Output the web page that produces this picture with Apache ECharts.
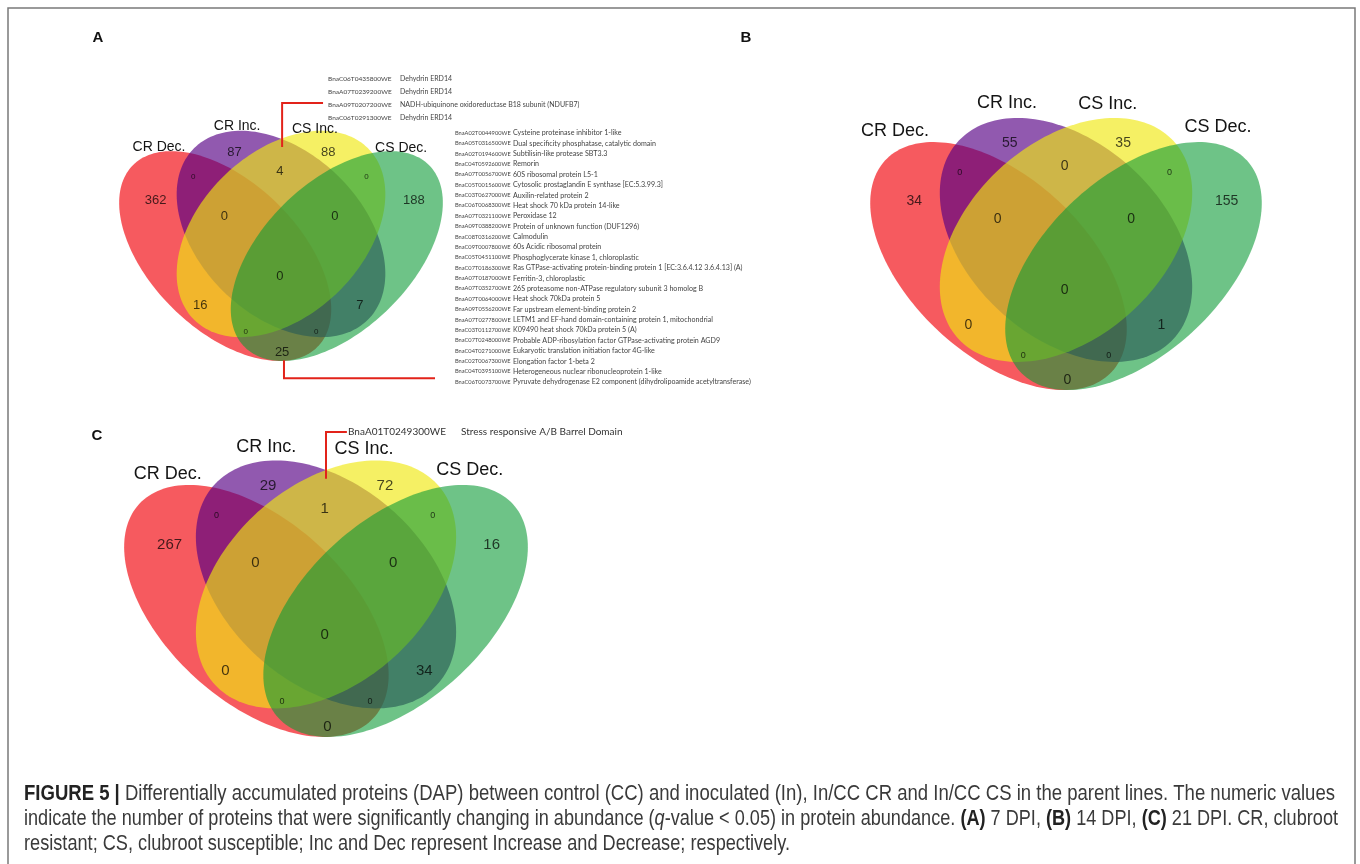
<!DOCTYPE html>
<html><head><meta charset="utf-8">
<script src="https://cdn.jsdelivr.net/npm/echarts@6/dist/echarts.min.js"></script>
<style>html,body{margin:0;padding:0;background:#fff}#c{width:1360px;height:864px}</style>
</head><body><div id="c"></div>
<script>
// ---------------- DATA ----------------
const setNames = ['CR Dec.', 'CR Inc.', 'CS Inc.', 'CS Dec.'];
// region keys: A=CR Dec., B=CR Inc., C=CS Inc., D=CS Dec.
const regionKeys = ['A','B','C','D','AB','BC','CD','ABC','BCD','ABCD','AC','BD','ACD','ABD','AD'];
const panelLetters = ['A', 'B', 'C'];
const counts7dpi  = [362, 87, 88, 188, 0, 4, 0, 0, 0, 0, 16, 7, 0, 0, 25];
const counts14dpi = [34, 55, 35, 155, 0, 0, 0, 0, 0, 0, 0, 1, 0, 0, 0];
const counts21dpi = [267, 29, 72, 16, 0, 1, 0, 0, 0, 0, 0, 34, 0, 0, 0];

const genesBC7Ids = ['BnaC06T0435800WE','BnaA07T0239200WE','BnaA09T0207200WE','BnaC06T0291300WE'];
const genesBC7Desc = ['Dehydrin ERD14','Dehydrin ERD14','NADH-ubiquinone oxidoreductase B18 subunit (NDUFB7)','Dehydrin ERD14'];
const genesAD7Ids = ['BnaA02T0044900WE','BnaA05T0316500WE','BnaA02T0194600WE','BnaC04T0592600WE','BnaA07T0056700WE',
 'BnaC05T0015600WE','BnaC03T0627000WE','BnaC06T0068300WE','BnaA07T0321100WE','BnaA09T0388200WE','BnaC08T0316200WE',
 'BnaC09T0007800WE','BnaC05T0451100WE','BnaC07T0186300WE','BnaA07T0187000WE','BnaA07T0352700WE','BnaA07T0064000WE',
 'BnaA09T0556200WE','BnaA07T0277800WE','BnaC03T0112700WE','BnaC07T0248000WE','BnaC04T0271000WE','BnaC02T0067300WE',
 'BnaC04T0395100WE','BnaC06T0073700WE'];
const genesAD7Desc = ['Cysteine proteinase inhibitor 1-like','Dual specificity phosphatase, catalytic domain',
 'Subtilisin-like protease SBT3.3','Remorin','60S ribosomal protein L5-1','Cytosolic prostaglandin E synthase [EC:5.3.99.3]',
 'Auxilin-related protein 2','Heat shock 70 kDa protein 14-like','Peroxidase 12','Protein of unknown function (DUF1296)',
 'Calmodulin','60s Acidic ribosomal protein','Phosphoglycerate kinase 1, chloroplastic',
 'Ras GTPase-activating protein-binding protein 1 [EC:3.6.4.12 3.6.4.13] (A)','Ferritin-3, chloroplastic',
 '26S proteasome non-ATPase regulatory subunit 3 homolog B','Heat shock 70kDa protein 5','Far upstream element-binding protein 2',
 'LETM1 and EF-hand domain-containing protein 1, mitochondrial','K09490 heat shock 70kDa protein 5 (A)',
 'Probable ADP-ribosylation factor GTPase-activating protein AGD9','Eukaryotic translation initiation factor 4G-like',
 'Elongation factor 1-beta 2','Heterogeneous nuclear ribonucleoprotein 1-like',
 'Pyruvate dehydrogenase E2 component (dihydrolipoamide acetyltransferase)'];
const genesBC21Ids = ['BnaA01T0249300WE'];
const genesBC21Desc = ['Stress responsive A/B Barrel Domain'];

const captionLines = [
  [['b', 'FIGURE 5 |'], ['n', ' Differentially accumulated proteins (DAP) between control (CC) and inoculated (In), In/CC CR and In/CC CS in the parent lines. The numeric values']],
  [['n', 'indicate the number of proteins that were significantly changing in abundance ('], ['i', 'q'], ['n', '-value < 0.05) in protein abundance. '],
   ['b', '(A)'], ['n', ' 7 DPI, '], ['b', '(B)'], ['n', ' 14 DPI, '], ['b', '(C)'], ['n', ' 21 DPI. CR, clubroot']],
  [['n', 'resistant; CS, clubroot susceptible; Inc and Dec represent Increase and Decrease; respectively.']]
];

// ---------------- LAYOUT ----------------
const ELL = [
  {cx: 0.35, cy: 0.47, a: 0.35, b: 0.20, rot: -45},
  {cx: 0.50, cy: 0.53, a: 0.33, b: 0.22, rot: -45},
  {cx: 0.50, cy: 0.53, a: 0.33, b: 0.22, rot: 45},
  {cx: 0.65, cy: 0.47, a: 0.35, b: 0.20, rot: 45}
];
const FILLS = ['rgba(241,12,19,0.68)', 'rgba(86,0,132,0.65)', 'rgba(240,232,17,0.65)', 'rgba(13,155,55,0.6)'];
const REGION_POS = {
  A: [0.163, 0.62], B: [0.375, 0.752], C: [0.627, 0.752], D: [0.857, 0.62],
  AB: [0.264, 0.685], BC: [0.497, 0.70], CD: [0.73, 0.685],
  ABC: [0.348, 0.578], BCD: [0.645, 0.578], ABCD: [0.497, 0.415],
  AC: [0.283, 0.335], BD: [0.712, 0.335], ACD: [0.405, 0.265], ABD: [0.595, 0.265], AD: [0.503, 0.207]
};
const SMALL = {AB: 1, CD: 1, ACD: 1, ABD: 1};
const PANELS = [
  {grid: {left: 95, top: 61, width: 372, height: 368}, counts: counts7dpi,
   setPos: [[0.172, 0.766], [0.382, 0.823], [0.591, 0.815], [0.823, 0.763]], fs: {set: 14, count: 13, small: 8},
   letter: [98, 38]},
  {grid: {left: 841, top: 35.5, width: 450, height: 435}, counts: counts14dpi,
   setPos: [[0.12, 0.78], [0.369, 0.845], [0.593, 0.842], [0.838, 0.79]], fs: {set: 18, count: 14, small: 9},
   letter: [746, 38]},
  {grid: {left: 94, top: 376.7, width: 464, height: 442}, counts: counts21dpi,
   setPos: [[0.159, 0.78], [0.371, 0.841], [0.582, 0.837], [0.81, 0.789]], fs: {set: 18, count: 15, small: 9},
   letter: [97, 436]}
];
const CALLOUTS = [
  {grid: 0, pts: [[0.503, 0.766], [0.503, 0.886], [0.613, 0.886]]},
  {grid: 0, pts: [[0.508, 0.187], [0.508, 0.138], [0.914, 0.138]]},
  {grid: 2, pts: [[0.5, 0.769], [0.5, 0.875], [0.545, 0.875]]}
];
const SANS = '"Liberation Sans", Arial, sans-serif';

// ---------------- BUILD ----------------
const grids = [], xAxes = [], yAxes = [], series = [];
PANELS.forEach((p, gi) => {
  grids.push(Object.assign({show: false}, p.grid));
  xAxes.push({type: 'value', gridIndex: gi, min: 0, max: 1, show: false});
  yAxes.push({type: 'value', gridIndex: gi, min: 0, max: 1, show: false});
  series.push({
    type: 'custom', xAxisIndex: gi, yAxisIndex: gi, clip: false, silent: true, z: 1,
    data: ELL.map((e, i) => [e.cx, e.cy, i]),
    renderItem: (params, api) => {
      const e = ELL[api.value(2)];
      const r = e.rot * Math.PI / 180, c = Math.cos(r), s = Math.sin(r);
      const pts = [];
      for (let k = 0; k < 180; k++) {
        const t = k / 180 * 2 * Math.PI;
        const X = e.a * Math.cos(t), Y = e.b * Math.sin(t);
        pts.push(api.coord([e.cx + X * c - Y * s, e.cy + X * s + Y * c]));
      }
      return {type: 'polygon', shape: {points: pts}, style: {fill: FILLS[api.value(2)]}};
    }
  });
  series.push({
    type: 'custom', xAxisIndex: gi, yAxisIndex: gi, clip: false, silent: true, z: 5,
    data: regionKeys.map((k, i) => [REGION_POS[k][0], REGION_POS[k][1], i]),
    renderItem: (params, api) => {
      const idx = api.value(2), key = regionKeys[idx];
      const pt = api.coord([api.value(0), api.value(1)]);
      return {type: 'text', x: pt[0], y: pt[1], style: {
        text: String(p.counts[idx]), fontFamily: SANS,
        fontSize: SMALL[key] ? p.fs.small : p.fs.count,
        fill: 'rgba(0,0,0,0.72)', align: 'center', verticalAlign: 'middle'}};
    }
  });
  series.push({
    type: 'custom', xAxisIndex: gi, yAxisIndex: gi, clip: false, silent: true, z: 5,
    data: setNames.map((n, i) => [p.setPos[i][0], p.setPos[i][1], i]),
    renderItem: (params, api) => {
      const pt = api.coord([api.value(0), api.value(1)]);
      return {type: 'text', x: pt[0], y: pt[1], style: {
        text: setNames[api.value(2)], fontFamily: SANS, fontSize: p.fs.set,
        fill: '#141414', align: 'center', verticalAlign: 'middle'}};
    }
  });
});
CALLOUTS.forEach(co => {
  series.push({
    type: 'custom', xAxisIndex: co.grid, yAxisIndex: co.grid, clip: false, silent: true, z: 6,
    data: [[co.pts[0][0], co.pts[0][1]]],
    renderItem: (params, api) => ({
      type: 'polyline', shape: {points: co.pts.map(q => api.coord(q))},
      style: {stroke: '#e2231a', lineWidth: 2, fill: null}
    })
  });
});

const graphic = [];
graphic.push({type: 'rect', shape: {x: 8, y: 8, width: 1347, height: 880}, style: {fill: 'none', stroke: '#7a7a7a', lineWidth: 1.5}, z: 0});
PANELS.forEach((p, i) => {
  graphic.push({type: 'text', x: p.letter[0], y: p.letter[1], style: {text: panelLetters[i], fontFamily: SANS, fontWeight: 'bold', fontSize: 15, fill: '#111', align: 'center', verticalAlign: 'middle'}});
});
const GENE_FONT = 'Lato, "Open Sans", sans-serif';
genesBC7Ids.forEach((id, i) => {
  const y = 79 + i * 13;
  graphic.push({type: 'text', x: 328, y, style: {text: id, fontFamily: GENE_FONT, fontSize: 6.5, fill: '#444', verticalAlign: 'middle'}});
  graphic.push({type: 'text', x: 400, y, style: {text: genesBC7Desc[i], fontFamily: GENE_FONT, fontSize: 7, fill: '#444', verticalAlign: 'middle'}});
});
genesAD7Ids.forEach((id, i) => {
  const y = 133 + i * 10.375;
  graphic.push({type: 'text', x: 455, y, style: {text: id, fontFamily: GENE_FONT, fontSize: 5.7, fill: '#444', verticalAlign: 'middle'}});
  graphic.push({type: 'text', x: 513, y, style: {text: genesAD7Desc[i], fontFamily: GENE_FONT, fontSize: 7.1, fill: '#444', verticalAlign: 'middle'}});
});
genesBC21Ids.forEach((id, i) => {
  graphic.push({type: 'text', x: 348, y: 432, style: {text: id, fontFamily: GENE_FONT, fontSize: 10, fill: '#333', verticalAlign: 'middle'}});
  graphic.push({type: 'text', x: 461, y: 432, style: {text: genesBC21Desc[i], fontFamily: GENE_FONT, fontSize: 10, fill: '#333', verticalAlign: 'middle'}});
});

// caption: Liberation Sans, each line horizontally condensed to its measured right edge
const CAP_SIZE = 22, CAP_X = 24;
const CAP_RIGHT = [1335, 1338, 790];
const mctx = document.createElement('canvas').getContext('2d');
function segFont(kind) {
  return (kind === 'b' ? 'bold ' : kind === 'i' ? 'italic ' : '') + CAP_SIZE + 'px "Liberation Sans"';
}
function lineWidth(segs) {
  return segs.reduce((w, s) => { mctx.font = segFont(s[0]); return w + mctx.measureText(s[1]).width; }, 0);
}
captionLines.forEach((segs, i) => {
  const sc = (CAP_RIGHT[i] - CAP_X) / lineWidth(segs);
  graphic.push({type: 'text', x: CAP_X, y: 794 + i * 25, scaleX: sc, style: {
    text: segs.map(s => '{' + s[0] + '|' + s[1] + '}').join(''),
    fontFamily: SANS, fontSize: CAP_SIZE, fill: '#333', verticalAlign: 'middle',
    rich: {
      n: {fontFamily: SANS, fontSize: CAP_SIZE, fill: '#3a3a3a'},
      b: {fontFamily: SANS, fontSize: CAP_SIZE, fontWeight: 'bold', fill: '#222'},
      i: {fontFamily: SANS, fontSize: CAP_SIZE, fontStyle: 'italic', fill: '#3a3a3a'}
    }}});
});

const chart = echarts.init(document.getElementById('c'), null, {renderer: 'canvas'});
chart.setOption({
  backgroundColor: '#fff', animation: false,
  grid: grids, xAxis: xAxes, yAxis: yAxes, series, graphic
});
</script></body></html>
